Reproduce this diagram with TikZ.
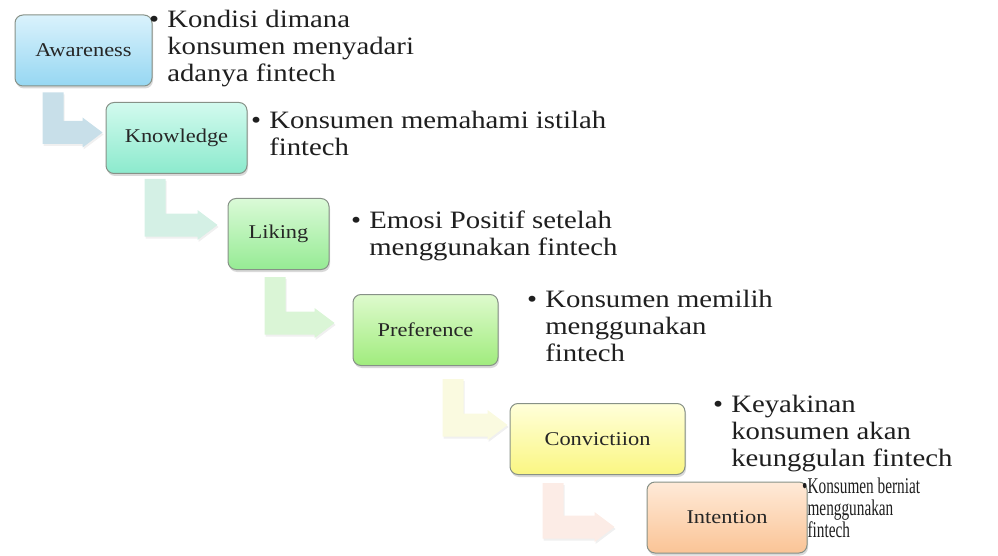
\documentclass[tikz,border=0pt]{standalone}
\usepackage{fontspec}
\setmainfont[FakeStretch=1.15]{Liberation Serif}
\newfontfamily\narrowfont[FakeStretch=0.68]{Liberation Serif}
\usetikzlibrary{calc,shadows,backgrounds}

\definecolor{awtop}{RGB}{218,242,252}
\definecolor{awbot}{RGB}{150,215,242}
\definecolor{kntop}{RGB}{210,250,238}
\definecolor{knbot}{RGB}{140,234,205}
\definecolor{litop}{RGB}{218,250,215}
\definecolor{libot}{RGB}{150,235,148}
\definecolor{prtop}{RGB}{222,250,205}
\definecolor{prbot}{RGB}{160,236,125}
\definecolor{cotop}{RGB}{255,255,218}
\definecolor{cobot}{RGB}{250,246,130}
\definecolor{intop}{RGB}{255,234,216}
\definecolor{inbot}{RGB}{250,196,150}
\definecolor{awarrow}{RGB}{200,223,233}
\definecolor{knarrow}{RGB}{212,240,229}
\definecolor{liarrow}{RGB}{218,245,214}
\definecolor{prarrow}{RGB}{250,250,224}
\definecolor{coarrow}{RGB}{252,236,230}
\definecolor{stageline}{RGB}{135,145,135}

\tikzset{
    stage/.style={rectangle, draw=stageline, rounded corners=8pt, line width=1pt, minimum height=71pt, font=\fontsize{19.5}{23}\selectfont, text=black!85, drop shadow={opacity=0.3, shadow xshift=1pt, shadow yshift=-2.5pt}},
    note/.style={anchor=base west, inner sep=0pt, font=\fontsize{25}{27}\selectfont, text=black!88},
    smallnote/.style={note, font=\narrowfont\fontsize{22.5}{22}\selectfont},
    bent/.style={drop shadow={opacity=0.12, shadow xshift=1pt, shadow yshift=-2pt}}
}

% #1 from node, #2 stem offset, #3 to node, #4 tip offset, #5 colour
\newcommand{\bentarrow}[5]{%
    \fill[#5, bent] let \p1=($(#1.south west)+(#2)$), \p2=($(#3.west)+(#4)$) in
        (\x1,\y1) -- (\x1+21pt,\y1) -- (\x1+21pt,\y2+11.5pt) -- (\x2-20pt,\y2+11.5pt)
        -- (\x2-20pt,\y2+15pt) -- (\x2,\y2) -- (\x2-20pt,\y2-15pt)
        -- (\x2-20pt,\y2-11.5pt) -- (\x1,\y2-11.5pt) -- cycle;
}

\begin{document}
\begin{tikzpicture}[x=1pt, y=-1pt]
    \useasboundingbox (0,0) rectangle (998,556);

    \node [stage, minimum width=137pt, top color=awtop, bottom color=awbot] (aw) at (83.5,50.5) {Awareness};
    \node [stage, minimum width=141pt, top color=kntop, bottom color=knbot] (kn) at (176.5,138) {Knowledge};
    \node [stage, minimum width=101pt, top color=litop, bottom color=libot] (li) at (278.5,234) {Liking};
    \node [stage, minimum width=145pt, top color=prtop, bottom color=prbot] (pr) at (425.5,330) {Preference};
    \node [stage, minimum width=175pt, top color=cotop, bottom color=cobot] (co) at (597.5,439) {Convictiion};
    \node [stage, minimum width=160pt, top color=intop, bottom color=inbot] (in) at (727,517.5) {Intention};

    \node [note] (aw-note) at (149,28) {\begin{tabular}[t]{@{}l@{\hspace{8pt}}l@{}}\textbullet & Kondisi dimana\\ & konsumen menyadari\\ & adanya fintech\end{tabular}};
    \node [note] (kn-note) at (251,129) {\begin{tabular}[t]{@{}l@{\hspace{8pt}}l@{}}\textbullet & Konsumen memahami istilah\\ & fintech\end{tabular}};
    \node [note] (li-note) at (351,229) {\begin{tabular}[t]{@{}l@{\hspace{8pt}}l@{}}\textbullet & Emosi Positif setelah\\ & menggunakan fintech\end{tabular}};
    \node [note] (pr-note) at (527,307) {\begin{tabular}[t]{@{}l@{\hspace{8pt}}l@{}}\textbullet & Konsumen memilih\\ & menggunakan\\ & fintech\end{tabular}};
    \node [note] (co-note) at (713,412) {\begin{tabular}[t]{@{}l@{\hspace{8pt}}l@{}}\textbullet & Keyakinan\\ & konsumen akan\\ & keunggulan fintech\end{tabular}};
    \node [smallnote] (in-note) at (802,493) {\begin{tabular}[t]{@{}l@{}l@{}}\textbullet & Konsumen berniat\\ & menggunakan\\ & fintech\end{tabular}};

    \begin{scope}[on background layer]
        \bentarrow{aw}{28,6}{kn}{-3,-5.5}{awarrow}
        \bentarrow{kn}{39,5}{li}{-10,-9}{knarrow}
        \bentarrow{li}{37,7}{pr}{-18,-7}{liarrow}
        \bentarrow{pr}{90,13}{co}{-2,-14}{prarrow}
        \bentarrow{co}{33,8}{in}{-32,9.5}{coarrow}
    \end{scope}
\end{tikzpicture}
\end{document}
